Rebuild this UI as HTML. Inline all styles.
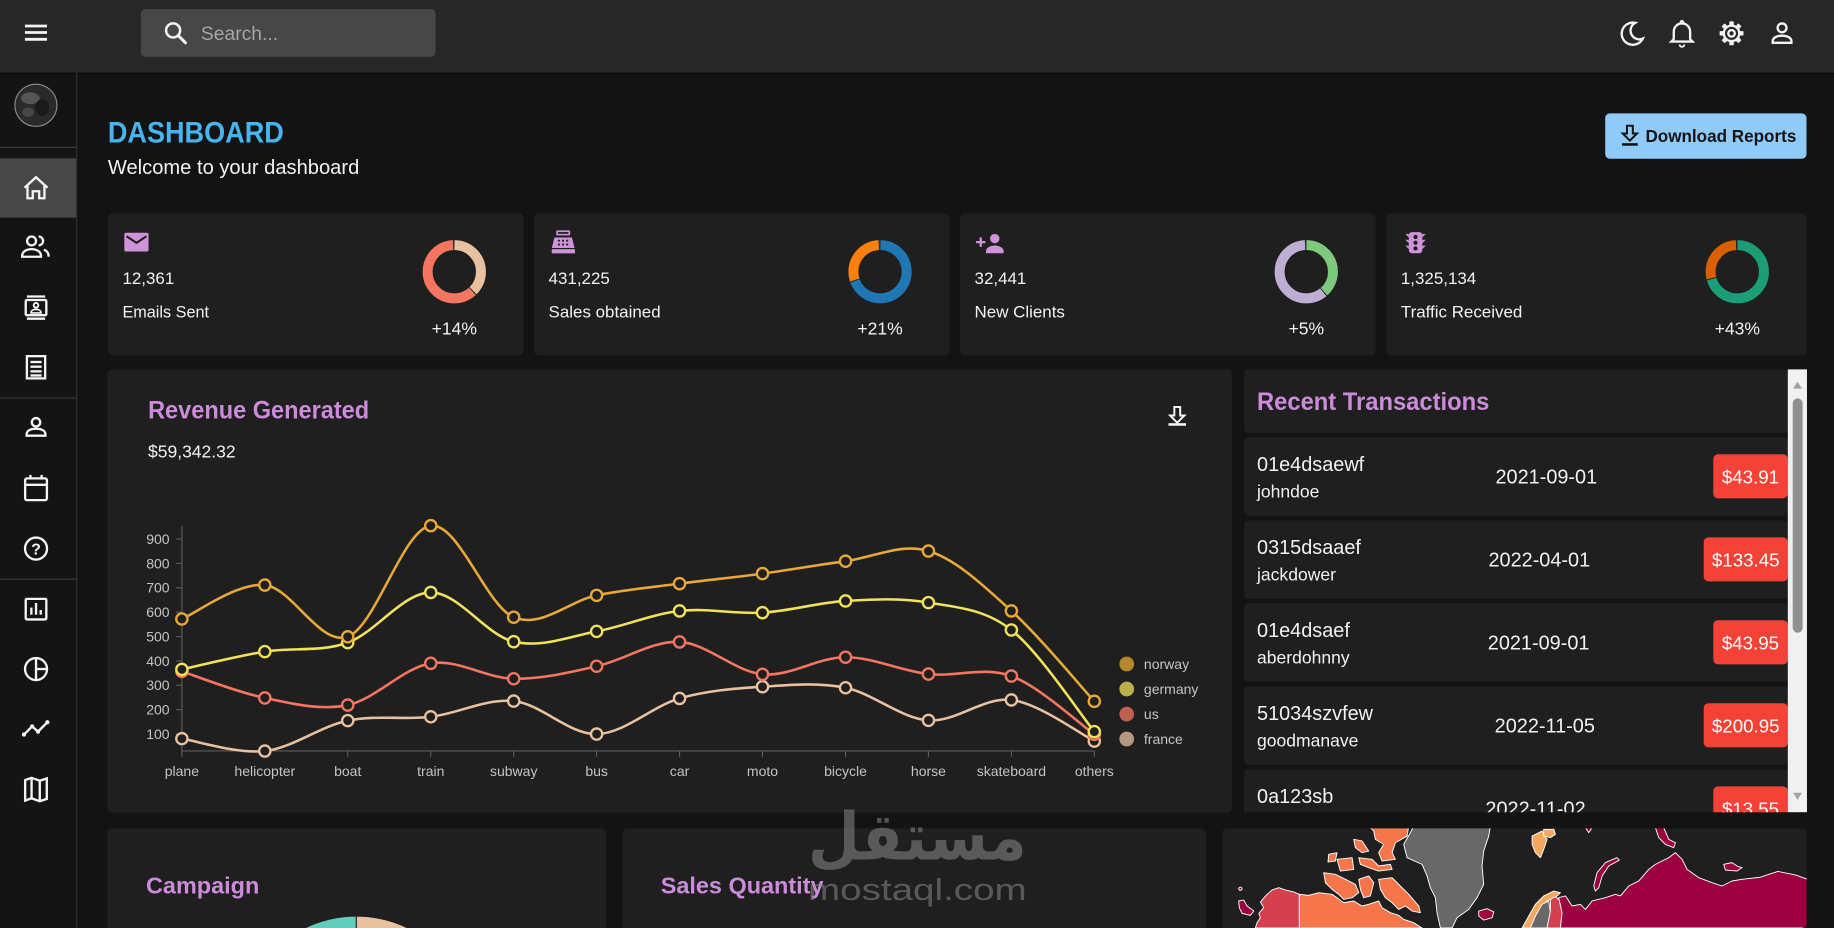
<!DOCTYPE html>
<html><head><meta charset="utf-8"><style>
html,body{margin:0;padding:0;background:#131313;overflow:hidden;width:1834px;height:928px}
svg{display:block;overflow:hidden}
</style></head><body>
<svg width="1834" height="928" viewBox="0 0 1568 793.4" preserveAspectRatio="none" font-family="'Liberation Sans', sans-serif" xmlns="http://www.w3.org/2000/svg" style="overflow:hidden">
<defs>
<clipPath id="tx"><rect x="1063" y="315.8" width="482" height="378.6"/></clipPath>
<clipPath id="geo"><rect x="1045" y="708.2" width="499.6" height="85.2" rx="4"/></clipPath>
<clipPath id="camp"><rect x="91.6" y="708.2" width="426.6" height="85.2" rx="4"/></clipPath>
<clipPath id="page"><rect x="0" y="0" width="1568" height="793.4"/></clipPath>
</defs>
<g clip-path="url(#page)">
<rect width="1568" height="794" fill="#131313"/>
<!-- header -->
<rect width="1568" height="62" fill="#272727"/>
<rect y="62" width="1568" height="2" fill="#0a0a0a" opacity=".6"/>
<g stroke="#f2f2f2" stroke-width="2.4"><line x1="21.3" y1="22.2" x2="40.2" y2="22.2"/><line x1="21.3" y1="27.8" x2="40.2" y2="27.8"/><line x1="21.3" y1="33.6" x2="40.2" y2="33.6"/></g>
<rect x="120.4" y="7.7" width="252" height="40.8" rx="4" fill="#474747"/>
<circle cx="148" cy="26" r="6" fill="none" stroke="#f2f2f2" stroke-width="2.2"/>
<line x1="152.4" y1="30.4" x2="158.6" y2="36.6" stroke="#f2f2f2" stroke-width="2.6" stroke-linecap="round"/>
<text x="171.8" y="34.2" font-size="16.5" fill="#a6a6a6">Search...</text>
<g fill="none" stroke="#f4f4f4" stroke-width="2">
<path d="M1398,19.5 A9.5,9.5 0 1,0 1404.5,33 A7.5,7.5 0 0,1 1398,19.5 Z"/>
<path d="M1431,33.5 v-6.5 a7,7 0 0,1 14,0 v6.5 l2,2 h-18 z"/>
<path d="M1436,38 a2,2 0 0,0 4,0" stroke-width="1.6"/>
<circle cx="1438" cy="19" r="1" />
<circle cx="1480.4" cy="28.5" r="6.6"/>
<circle cx="1480.4" cy="28.5" r="2.8"/>
<circle cx="1523.6" cy="23.8" r="3.8"/>
<path d="M1515.6,36.6 v-1.5 c0,-3 4,-4.6 8,-4.6 s8,1.6 8,4.6 v1.5 z"/>
</g>
<g transform="translate(1480.4,28.5)" fill="#f4f4f4">
<rect x="-1.9" y="-10.2" width="3.8" height="4" rx=".5"/>
<rect x="-1.9" y="-10.2" width="3.8" height="4" rx=".5" transform="rotate(45)"/>
<rect x="-1.9" y="-10.2" width="3.8" height="4" rx=".5" transform="rotate(90)"/>
<rect x="-1.9" y="-10.2" width="3.8" height="4" rx=".5" transform="rotate(135)"/>
<rect x="-1.9" y="-10.2" width="3.8" height="4" rx=".5" transform="rotate(180)"/>
<rect x="-1.9" y="-10.2" width="3.8" height="4" rx=".5" transform="rotate(225)"/>
<rect x="-1.9" y="-10.2" width="3.8" height="4" rx=".5" transform="rotate(270)"/>
<rect x="-1.9" y="-10.2" width="3.8" height="4" rx=".5" transform="rotate(315)"/>
</g>
<!-- sidebar -->
<rect x="0" y="64" width="65.4" height="730" fill="#141414"/>
<line x1="65.6" y1="62" x2="65.6" y2="794" stroke="#2f2f2f" stroke-width="1"/>
<circle cx="30.7" cy="90" r="18" fill="#2a2a2a" stroke="#8c8c8c" stroke-width="1"/>
<ellipse cx="26" cy="84" rx="8" ry="5" fill="#555"/>
<ellipse cx="36" cy="92" rx="6" ry="7" fill="#1a1a1a"/>
<ellipse cx="24" cy="96" rx="5" ry="4" fill="#474747"/>
<line x1="0" y1="126" x2="65" y2="126" stroke="#383838"/>
<rect x="0" y="135.4" width="65" height="50.7" fill="#474747"/>
<line x1="0" y1="340.3" x2="65" y2="340.3" stroke="#383838"/>
<line x1="0" y1="495.2" x2="65" y2="495.2" stroke="#383838"/>
<g fill="none" stroke="#f4f4f4" stroke-width="2">
<path d="M21,160.5 L30.8,151.5 L40.6,160.5 M23.5,158.5 V169.5 H28 V163.5 H33.5 V169.5 H38 V158.5"/>
<circle cx="27" cy="206" r="3.8"/>
<path d="M19,219.5 v-1 c0,-3.5 4,-5.5 8,-5.5 s8,2 8,5.5 v1 z"/>
<path d="M33,202.2 a3.8,3.8 0 0,1 0,7.6"/>
<path d="M37.5,213.5 c2.5,1 4,2.5 4,5 v1"/>
<line x1="23" y1="253.5" x2="38.6" y2="253.5"/>
<line x1="23" y1="272.5" x2="38.6" y2="272.5"/>
<rect x="22" y="256.5" width="17.6" height="13" rx="1"/>
<circle cx="30.8" cy="261" r="2" stroke-width="1.6"/>
<path d="M26.5,267.5 c0,-2 2,-3 4.3,-3 s4.3,1 4.3,3 z" stroke-width="1.4"/>
<rect x="23" y="304.5" width="15.6" height="19"/>
<line x1="26" y1="309.5" x2="35.6" y2="309.5"/>
<line x1="26" y1="313.5" x2="35.6" y2="313.5"/>
<line x1="26" y1="317.5" x2="35.6" y2="317.5"/>
<line x1="26" y1="321" x2="35.6" y2="321"/>
<circle cx="30.8" cy="361" r="3.6"/>
<path d="M22.8,372.5 v-1.5 c0,-3 4,-4.5 8,-4.5 s8,1.5 8,4.5 v1.5 z"/>
<rect x="21.5" y="409" width="18.6" height="18.6" rx="1.5"/>
<line x1="21.5" y1="414.5" x2="40.1" y2="414.5"/>
<line x1="26" y1="406" x2="26" y2="410"/>
<line x1="35.6" y1="406" x2="35.6" y2="410"/>
<circle cx="30.8" cy="469" r="9.4"/>
<rect x="22" y="512" width="17.6" height="17.6" rx="1"/>
<line x1="26.8" y1="519.5" x2="26.8" y2="525.5"/>
<line x1="30.8" y1="515.5" x2="30.8" y2="525.5"/>
<line x1="34.8" y1="521.5" x2="34.8" y2="525.5"/>
<circle cx="30.8" cy="572" r="9.4"/>
<line x1="30.8" y1="562.6" x2="30.8" y2="581.4"/>
<line x1="30.8" y1="572" x2="40.2" y2="572"/>
<polyline points="20.5,628 27.5,621 32.5,625.5 40.5,617.5"/>
<path d="M21.5,667 L27,665 L34,667.5 L40,665.5 V683 L34,685 L27,682.5 L21.5,684.5 Z M27,665 V682.5 M34,667.5 V685"/>
</g>
<text x="30.8" y="474" font-size="13.5" font-weight="bold" fill="#f4f4f4" text-anchor="middle">?</text>
<g fill="#f4f4f4"><circle cx="20.5" cy="628" r="1.8"/><circle cx="27.5" cy="621" r="1.8"/><circle cx="32.5" cy="625.5" r="1.8"/><circle cx="40.5" cy="617.5" r="1.8"/></g>
<!-- title -->
<text x="92.2" y="122" font-size="25" font-weight="bold" fill="#46b5ef" textLength="150.5" lengthAdjust="spacingAndGlyphs">DASHBOARD</text>
<text x="92.2" y="148.8" font-size="17" fill="#f2f2f2" textLength="215" lengthAdjust="spacingAndGlyphs">Welcome to your dashboard</text>
<rect x="1372.4" y="96.9" width="172.1" height="38.8" rx="4" fill="#90caf9"/>
<path d="M1391,107.5 h5 v6.6 h3.6 l-6.1,6.1 l-6.1,-6.1 h3.6 z" fill="none" stroke="#151515" stroke-width="1.7"/>
<rect x="1386.8" y="122.4" width="13.4" height="2.2" fill="#151515"/>
<text x="1406.8" y="121.6" font-size="15" font-weight="bold" fill="#151515" textLength="129" lengthAdjust="spacingAndGlyphs">Download Reports</text>
<!-- stat cards -->
<g fill="#1f1f1f">
<rect x="92.3" y="182.4" width="355.3" height="121.4" rx="4"/>
<rect x="456.6" y="182.4" width="355.1" height="121.4" rx="4"/>
<rect x="820.8" y="182.4" width="355.3" height="121.4" rx="4"/>
<rect x="1185.3" y="182.4" width="359.3" height="121.4" rx="4"/>
</g>
<!-- stat icons -->
<g fill="#ce93d8">
<rect x="106.3" y="199" width="20.7" height="16" rx="1.5"/>
<rect x="475.5" y="197" width="12" height="4.2" rx="1"/>
<path d="M474,203 h15 l2.2,9 h-19.4 z"/>
<rect x="471.7" y="213" width="19.9" height="3.6" rx=".5"/>
<rect x="834.5" y="206" width="8" height="2"/>
<rect x="837.5" y="203" width="2" height="8"/>
<circle cx="850.5" cy="204" r="4"/>
<path d="M843,216.5 v-2 c0,-3 4.5,-4.6 7.5,-4.6 s7.5,1.6 7.5,4.6 v2 z"/>
<rect x="1204.5" y="198.5" width="11.5" height="18" rx="2.5"/>
<path d="M1204.5,200 h-3 l3,3 z M1204.5,205 h-3 l3,3 z M1204.5,210 h-3 l3,3 z M1216,200 h3 l-3,3 z M1216,205 h3 l-3,3 z M1216,210 h3 l-3,3 z"/>
</g>
<path d="M108.2,202 L116.7,207.6 L125.2,202" fill="none" stroke="#1f1f1f" stroke-width="1.8"/>
<rect x="477" y="198.4" width="9" height="1.5" fill="#1f1f1f"/>
<g fill="#1f1f1f"><rect x="477" y="205" width="1.8" height="1.5"/><rect x="480.5" y="205" width="1.8" height="1.5"/><rect x="484" y="205" width="1.8" height="1.5"/><rect x="477" y="208.3" width="1.8" height="1.5"/><rect x="480.5" y="208.3" width="1.8" height="1.5"/><rect x="484" y="208.3" width="1.8" height="1.5"/>
<circle cx="1210.2" cy="202.6" r="1.8"/><circle cx="1210.2" cy="207.5" r="1.8"/><circle cx="1210.2" cy="212.4" r="1.8"/></g>
<g font-size="14.5" fill="#f2f2f2">
<text x="104.7" y="242.8">12,361</text>
<text x="104.7" y="271.3" textLength="74" lengthAdjust="spacingAndGlyphs">Emails Sent</text>
<text x="469" y="242.8">431,225</text>
<text x="469" y="271.3">Sales obtained</text>
<text x="833.2" y="242.8">32,441</text>
<text x="833.2" y="271.3">New Clients</text>
<text x="1197.7" y="242.8">1,325,134</text>
<text x="1197.7" y="271.3">Traffic Received</text>
</g>
<g font-size="15" fill="#f2f2f2" text-anchor="middle">
<text x="388.4" y="285.9">+14%</text>
<text x="752.4" y="285.9">+21%</text>
<text x="1116.8" y="285.9">+5%</text>
<text x="1485.3" y="285.9">+43%</text>
</g>
<!-- donuts -->
<g fill="none" stroke-width="8.5">
<circle cx="388.4" cy="232.3" r="22.8" pathLength="360" transform="rotate(-90 388.4 232.3)" stroke="#e8c1a0" stroke-dasharray="135 225" stroke-dashoffset="-1"/>
<circle cx="388.4" cy="232.3" r="22.8" pathLength="360" transform="rotate(-90 388.4 232.3)" stroke="#f47560" stroke-dasharray="221 139" stroke-dashoffset="-138"/>
<circle cx="752.4" cy="232.3" r="22.8" pathLength="360" transform="rotate(-90 752.4 232.3)" stroke="#1f77b4" stroke-dasharray="250 110" stroke-dashoffset="-1"/>
<circle cx="752.4" cy="232.3" r="22.8" pathLength="360" transform="rotate(-90 752.4 232.3)" stroke="#ff7f0e" stroke-dasharray="106 254" stroke-dashoffset="-253"/>
<circle cx="1116.8" cy="232.3" r="22.8" pathLength="360" transform="rotate(-90 1116.8 232.3)" stroke="#7fc97f" stroke-dasharray="138 222" stroke-dashoffset="-1"/>
<circle cx="1116.8" cy="232.3" r="22.8" pathLength="360" transform="rotate(-90 1116.8 232.3)" stroke="#beaed4" stroke-dasharray="218 142" stroke-dashoffset="-141"/>
<circle cx="1485.3" cy="232.3" r="22.8" pathLength="360" transform="rotate(-90 1485.3 232.3)" stroke="#1b9e77" stroke-dasharray="254 106" stroke-dashoffset="-1"/>
<circle cx="1485.3" cy="232.3" r="22.8" pathLength="360" transform="rotate(-90 1485.3 232.3)" stroke="#d95f02" stroke-dasharray="102 258" stroke-dashoffset="-257"/>
</g>
<!-- revenue card -->
<rect x="91.8" y="315.8" width="961.5" height="379" rx="4" fill="#1f1f1f"/>
<text x="126.6" y="357.7" font-size="21" font-weight="bold" fill="#cc8cdb" textLength="189" lengthAdjust="spacingAndGlyphs">Revenue Generated</text>
<text x="126.5" y="391" font-size="15" fill="#f2f2f2" textLength="75" lengthAdjust="spacingAndGlyphs">$59,342.32</text>
<path d="M1004,348 h5 v7.2 h3.6 l-6.1,6.2 l-6.1,-6.2 h3.6 z" fill="none" stroke="#f4f4f4" stroke-width="1.7"/>
<rect x="999" y="361.8" width="15" height="2.2" fill="#f4f4f4"/>
<!-- chart axes -->
<g stroke="#5c5c5c" stroke-width="1">
<line x1="155.5" y1="449.7" x2="155.5" y2="642"/>
<line x1="155.5" y1="642" x2="935.6" y2="642"/>
<line x1="155.5" y1="642" x2="155.5" y2="647"/><line x1="226.4" y1="642" x2="226.4" y2="647"/><line x1="297.3" y1="642" x2="297.3" y2="647"/><line x1="368.3" y1="642" x2="368.3" y2="647"/><line x1="439.2" y1="642" x2="439.2" y2="647"/><line x1="510.1" y1="642" x2="510.1" y2="647"/><line x1="581" y1="642" x2="581" y2="647"/><line x1="651.9" y1="642" x2="651.9" y2="647"/><line x1="722.9" y1="642" x2="722.9" y2="647"/><line x1="793.8" y1="642" x2="793.8" y2="647"/><line x1="864.7" y1="642" x2="864.7" y2="647"/><line x1="935.6" y1="642" x2="935.6" y2="647"/>
<line x1="150.5" y1="627.6" x2="155.5" y2="627.6"/><line x1="150.5" y1="606.7" x2="155.5" y2="606.7"/><line x1="150.5" y1="585.9" x2="155.5" y2="585.9"/><line x1="150.5" y1="565" x2="155.5" y2="565"/><line x1="150.5" y1="544.2" x2="155.5" y2="544.2"/><line x1="150.5" y1="523.4" x2="155.5" y2="523.4"/><line x1="150.5" y1="502.5" x2="155.5" y2="502.5"/><line x1="150.5" y1="481.7" x2="155.5" y2="481.7"/><line x1="150.5" y1="460.8" x2="155.5" y2="460.8"/>
</g>
<g font-size="12" fill="#c4c4c8" text-anchor="end">
<text x="145" y="631.8">100</text><text x="145" y="610.9">200</text><text x="145" y="590.1">300</text><text x="145" y="569.2">400</text><text x="145" y="548.4">500</text><text x="145" y="527.6">600</text><text x="145" y="506.7">700</text><text x="145" y="485.9">800</text><text x="145" y="465">900</text>
</g>
<g font-size="12" fill="#c4c4c8" text-anchor="middle">
<text x="155.5" y="663.5">plane</text><text x="226.4" y="663.5">helicopter</text><text x="297.3" y="663.5">boat</text><text x="368.3" y="663.5">train</text><text x="439.2" y="663.5">subway</text><text x="510.1" y="663.5">bus</text><text x="581" y="663.5">car</text><text x="651.9" y="663.5">moto</text><text x="722.9" y="663.5">bicycle</text><text x="793.8" y="663.5">horse</text><text x="864.7" y="663.5">skateboard</text><text x="935.6" y="663.5">others</text>
</g>
<!-- series -->
<g fill="none" stroke-width="2.2">
<path stroke="#e8c1a0" d="M155.5,631.5 C167.3,633.3 202.8,644.7 226.4,642.1 C250.0,639.5 273.7,621.0 297.3,616.1 C320.9,611.2 344.7,615.6 368.3,612.8 C391.9,610.0 415.6,596.9 439.2,599.4 C462.8,601.9 486.5,628.0 510.1,627.6 C533.7,627.2 557.4,603.9 581.0,597.1 C604.6,590.4 628.3,588.6 651.9,587.1 C675.5,585.6 699.3,583.2 722.9,588.0 C746.5,592.8 770.2,614.2 793.8,615.9 C817.4,617.6 841.1,595.5 864.7,598.4 C888.3,601.4 923.8,627.7 935.6,633.6"/>
<path stroke="#f47560" d="M155.5,574.0 C167.3,577.8 202.8,591.9 226.4,596.7 C250.0,601.5 273.7,607.7 297.3,602.8 C320.9,597.9 344.7,570.9 368.3,567.1 C391.9,563.4 415.6,579.9 439.2,580.3 C462.8,580.7 486.5,574.9 510.1,569.6 C533.7,564.4 557.4,547.7 581.0,548.8 C604.6,550.0 628.3,574.3 651.9,576.5 C675.5,578.7 699.3,561.9 722.9,561.9 C746.5,561.9 770.2,573.6 793.8,576.3 C817.4,579.0 841.1,569.4 864.7,578.0 C888.3,586.6 923.8,619.5 935.6,627.8"/>
<path stroke="#f1e15b" d="M155.5,572.3 C167.3,569.8 202.8,560.9 226.4,557.1 C250.0,553.3 273.7,557.8 297.3,549.4 C320.9,541.0 344.7,506.6 368.3,506.5 C391.9,506.4 415.6,543.1 439.2,548.6 C462.8,554.2 486.5,544.2 510.1,539.8 C533.7,535.4 557.4,525.0 581.0,522.3 C604.6,519.6 628.3,525.2 651.9,523.8 C675.5,522.4 699.3,515.2 722.9,513.8 C746.5,512.4 770.2,511.1 793.8,515.2 C817.4,519.3 841.1,520.2 864.7,538.6 C888.3,557.0 923.8,611.0 935.6,625.5"/>
<path stroke="#e8a838" d="M155.5,529.2 C167.3,524.4 202.8,497.7 226.4,500.2 C250.0,502.7 273.7,552.9 297.3,544.4 C320.9,535.9 344.7,452.2 368.3,449.4 C391.9,446.6 415.6,517.8 439.2,527.7 C462.8,537.6 486.5,513.8 510.1,509.0 C533.7,504.2 557.4,502.1 581.0,499.0 C604.6,495.9 628.3,493.6 651.9,490.4 C675.5,487.2 699.3,483.0 722.9,479.8 C746.5,476.6 770.2,464.0 793.8,471.1 C817.4,478.2 841.1,500.9 864.7,522.3 C888.3,543.7 923.8,586.7 935.6,599.6"/>
</g>
<g fill="#1f1f1f" stroke-width="2">
<g stroke="#e8c1a0"><circle cx="155.5" cy="631.5" r="4.8"/><circle cx="226.4" cy="642.1" r="4.8"/><circle cx="297.3" cy="616.1" r="4.8"/><circle cx="368.3" cy="612.8" r="4.8"/><circle cx="439.2" cy="599.4" r="4.8"/><circle cx="510.1" cy="627.6" r="4.8"/><circle cx="581" cy="597.1" r="4.8"/><circle cx="651.9" cy="587.1" r="4.8"/><circle cx="722.9" cy="588" r="4.8"/><circle cx="793.8" cy="615.9" r="4.8"/><circle cx="864.7" cy="598.4" r="4.8"/><circle cx="935.6" cy="633.6" r="4.8"/></g>
<g stroke="#f47560"><circle cx="155.5" cy="574" r="4.8"/><circle cx="226.4" cy="596.7" r="4.8"/><circle cx="297.3" cy="602.8" r="4.8"/><circle cx="368.3" cy="567.1" r="4.8"/><circle cx="439.2" cy="580.3" r="4.8"/><circle cx="510.1" cy="569.6" r="4.8"/><circle cx="581" cy="548.8" r="4.8"/><circle cx="651.9" cy="576.5" r="4.8"/><circle cx="722.9" cy="561.9" r="4.8"/><circle cx="793.8" cy="576.3" r="4.8"/><circle cx="864.7" cy="578" r="4.8"/><circle cx="935.6" cy="627.8" r="4.8"/></g>
<g stroke="#f1e15b"><circle cx="155.5" cy="572.3" r="4.8"/><circle cx="226.4" cy="557.1" r="4.8"/><circle cx="297.3" cy="549.4" r="4.8"/><circle cx="368.3" cy="506.5" r="4.8"/><circle cx="439.2" cy="548.6" r="4.8"/><circle cx="510.1" cy="539.8" r="4.8"/><circle cx="581" cy="522.3" r="4.8"/><circle cx="651.9" cy="523.8" r="4.8"/><circle cx="722.9" cy="513.8" r="4.8"/><circle cx="793.8" cy="515.2" r="4.8"/><circle cx="864.7" cy="538.6" r="4.8"/><circle cx="935.6" cy="625.5" r="4.8"/></g>
<g stroke="#e8a838"><circle cx="155.5" cy="529.2" r="4.8"/><circle cx="226.4" cy="500.2" r="4.8"/><circle cx="297.3" cy="544.4" r="4.8"/><circle cx="368.3" cy="449.4" r="4.8"/><circle cx="439.2" cy="527.7" r="4.8"/><circle cx="510.1" cy="509" r="4.8"/><circle cx="581" cy="499" r="4.8"/><circle cx="651.9" cy="490.4" r="4.8"/><circle cx="722.9" cy="479.8" r="4.8"/><circle cx="793.8" cy="471.1" r="4.8"/><circle cx="864.7" cy="522.3" r="4.8"/><circle cx="935.6" cy="599.6" r="4.8"/></g>
</g>
<!-- legend -->
<circle cx="963.3" cy="567.7" r="6.3" fill="#b6862f"/>
<circle cx="963.3" cy="589.1" r="6.3" fill="#bcb04c"/>
<circle cx="963.3" cy="610.5" r="6.3" fill="#bf5f50"/>
<circle cx="963.3" cy="631.8" r="6.3" fill="#b69880"/>
<g font-size="12" fill="#c4c4c8">
<text x="978" y="571.9">norway</text><text x="978" y="593.3">germany</text><text x="978" y="614.7">us</text><text x="978" y="636">france</text>
</g>
<!-- transactions -->
<g clip-path="url(#tx)">
<rect x="1063.6" y="315.8" width="464.9" height="54.2" rx="4" fill="#1f1f1f"/>
<g fill="#1f1f1f">
<rect x="1063.6" y="373.9" width="464.9" height="67" rx="4"/>
<rect x="1063.6" y="444.9" width="464.9" height="67" rx="4"/>
<rect x="1063.6" y="515.8" width="464.9" height="67" rx="4"/>
<rect x="1063.6" y="586.8" width="464.9" height="67" rx="4"/>
<rect x="1063.6" y="657.8" width="464.9" height="67" rx="4"/>
</g>
<text x="1074.7" y="350.5" font-size="21" font-weight="bold" fill="#cc8cdb" textLength="198.6" lengthAdjust="spacingAndGlyphs">Recent Transactions</text>
<g fill="#f44336">
<rect x="1464.8" y="388.4" width="63.7" height="37.7" rx="4"/>
<rect x="1456.6" y="459.4" width="71.9" height="37.7" rx="4"/>
<rect x="1464.8" y="530.3" width="63.7" height="37.7" rx="4"/>
<rect x="1456.6" y="601.3" width="71.9" height="37.7" rx="4"/>
<rect x="1464.8" y="672.3" width="63.7" height="37.7" rx="4"/>
</g>
<g fill="#f2f2f2">
<g font-size="17">
<text x="1074.7" y="402.7">01e4dsaewf</text>
<text x="1074.7" y="473.7">0315dsaaef</text>
<text x="1074.7" y="544.6">01e4dsaef</text>
<text x="1074.7" y="615.6">51034szvfew</text>
<text x="1074.7" y="686.6">0a123sb</text>
<text x="1278.6" y="413.3">2021-09-01</text>
<text x="1272.6" y="484.3">2022-04-01</text>
<text x="1272" y="555.2">2021-09-01</text>
<text x="1277.9" y="626.2">2022-11-05</text>
<text x="1270" y="697.2">2022-11-02</text>
</g>
<g font-size="15">
<text x="1074.7" y="425.5">johndoe</text>
<text x="1074.7" y="496.5">jackdower</text>
<text x="1074.7" y="567.4">aberdohnny</text>
<text x="1074.7" y="638.4">goodmanave</text>
</g>
<g font-size="16" text-anchor="middle" fill="#ffffff">
<text x="1496.6" y="413.3">$43.91</text>
<text x="1492.5" y="484.3">$133.45</text>
<text x="1496.6" y="555.2">$43.95</text>
<text x="1492.5" y="626.2">$200.95</text>
<text x="1496.6" y="697.2">$13.55</text>
</g>
</g>
</g>
<rect x="1528.5" y="315.8" width="16.4" height="378.6" fill="#f1f1f1"/>
<rect x="1532.7" y="340.6" width="8.5" height="200.3" rx="4.2" fill="#909090"/>
<polygon points="1533,332.3 1540.6,332.3 1536.8,326.3" fill="#a3a3a3"/>
<polygon points="1533,677.8 1540.6,677.8 1536.8,683.8" fill="#a3a3a3"/>
<!-- bottom cards -->
<rect x="91.6" y="708.2" width="426.6" height="90" rx="4" fill="#1f1f1f"/>
<rect x="532.2" y="708.2" width="498.8" height="90" rx="4" fill="#1f1f1f"/>
<rect x="1045" y="708.2" width="499.6" height="90" rx="4" fill="#1f1f1f"/>
<text x="124.8" y="763.8" font-size="20" font-weight="bold" fill="#cc8cdb" textLength="96.9" lengthAdjust="spacingAndGlyphs">Campaign</text>
<text x="564.9" y="763.8" font-size="20" font-weight="bold" fill="#cc8cdb" textLength="139.2" lengthAdjust="spacingAndGlyphs">Sales Quantity</text>
<g clip-path="url(#camp)">
<path d="M304.6,783.7 A100,100 0 0,0 204.6,883.7 L304.6,883.7 Z" fill="#61cdbb"/>
<path d="M304.6,783.7 A100,100 0 0,1 404.6,883.7 L304.6,883.7 Z" fill="#e8c1a0"/>
<line x1="304.6" y1="783" x2="304.6" y2="795" stroke="#1f1f1f" stroke-width="1"/>
</g>
<!-- map -->
<g clip-path="url(#geo)" stroke="#ffffff" stroke-width="0.8" stroke-linejoin="round">
<polygon fill="#d5404f" points="1073.3,793.4 1074.7,788.9 1077.6,784.6 1076.2,780.9 1080.4,776 1077.6,771.2 1083.3,764.6 1087.6,760.9 1093.3,758.9 1098.9,760.9 1106.1,762.6 1110.9,764.6 1110.9,793.4"/>
<polygon fill="#9d0040" points="1059,770.3 1063.3,769.5 1066.2,774.6 1071.9,778.9 1069,782.6 1061.9,780.9 1059.6,776"/>
<circle cx="1060.5" cy="759.8" r="1.4" fill="#9d0040"/>
<polygon fill="#f4764a" points="1110.9,764.6 1118.9,765.5 1127.5,763.2 1138.9,764.6 1143.1,767.5 1148.8,771.8 1157.4,770.3 1164.5,774.6 1170.2,773.2 1178.7,770.3 1181.6,776 1188.7,780.3 1195.8,782.6 1200.1,786 1208.7,788.9 1215.8,793.4 1110.9,793.4"/>
<polygon fill="#f4764a" points="1170.2,706.2 1204.4,706.2 1203,714.8 1193,720.5 1190.2,729 1193,734.7 1181.6,736.1 1178.7,729 1183,721.9 1175.9,717.6 1174.5,710.5"/>
<polygon fill="#f4764a" points="1178.7,751.8 1190.2,750.4 1195.8,756.1 1204.4,764.6 1213,774.6 1214.4,780.3 1207.3,778.9 1201.6,774.6 1195.8,777.5 1190.2,771.8 1184.5,767.5 1180.2,760.4"/>
<polygon fill="#f4764a" points="1131.7,746.1 1141.7,747.5 1150.3,751.8 1158.8,756.1 1161.7,763.2 1156,767.5 1148.8,768.9 1144.6,764.6 1138.9,760.4 1133.2,754.7"/>
<polygon fill="#f4764a" points="1161.7,733.3 1173.1,734.7 1178.7,740.4 1188.7,739 1190.2,743.3 1178.7,744.7 1170.2,741.8 1163.1,739"/>
<polygon fill="#f4764a" points="1136,730.4 1143.1,729 1141.7,736.1 1135.4,737"/>
<polygon fill="#f4764a" points="1143.1,734.7 1156,733.3 1157.4,743.3 1146,744.7"/>
<polygon fill="#f4764a" points="1157.4,717.6 1164.5,719 1170.2,727.6 1164.5,729 1158.8,724.7"/>
<polygon fill="#f4764a" points="1161.7,751.8 1170.2,748.9 1174.5,754.7 1171.6,766 1165.9,767.5 1163.1,760.4"/>
<polygon fill="#686868" points="1208.7,706.2 1205.8,711.9 1200.1,721.9 1203,733.3 1215.8,739 1220.1,749 1222.9,758.9 1227.2,767.5 1228.6,780.3 1231.5,793.4 1241.5,793.4 1245.7,784.6 1255.7,777.5 1262.8,767.5 1268.5,756.1 1267.1,740.4 1268.5,727.6 1272.8,714.8 1274.2,706.2"/>
<polygon fill="#a3003f" points="1264.3,778.9 1271.4,776.9 1277.1,779.7 1275.7,784.6 1268.5,786.6 1264.3,783.2"/>
<polygon fill="#f5a75f" points="1309.9,714.8 1318.4,710.5 1322.7,717.6 1319.8,726.2 1317,733.3 1312.7,729 1309.9,721.9"/>
<polygon fill="#f5a75f" points="1319.8,709 1328.4,709 1329.8,713.3 1325.5,716.2 1319.8,714.8"/>
<polygon fill="#f5a75f" points="1301.3,793.4 1307,783.2 1312.7,773.2 1319.8,766 1328.4,761.8 1334.1,763.2 1329.8,767.5 1322.7,770.3 1317,777.5 1311.3,787.4 1308.4,793.4"/>
<polygon fill="#686868" points="1308.4,793.4 1312.7,783.2 1318.4,773.2 1324.1,770.3 1325.5,780.3 1322.7,793.4"/>
<polygon fill="#d5404f" points="1322.7,793.4 1325.5,779 1325.5,769 1329.8,766.6 1334.1,770.3 1335.5,780.3 1334.1,793.4"/>
<polygon fill="#9d0040" points="1334.1,793.4 1335.5,780.3 1332.6,767.5 1338.4,766 1344.1,774.6 1351.2,773.2 1355.5,777.5 1361.2,770.3 1372.6,767.5 1381.1,764.6 1385.4,766 1392.5,757.5 1401.1,753.2 1409.6,743.3 1415.3,739 1426.7,733.3 1432.4,729 1438.1,734.7 1442.4,743.3 1452.4,750.4 1463.8,754.7 1472.3,757.5 1480.8,753.2 1489.4,751.8 1505,750 1520,745 1535,748 1546,752 1546,793.4"/>
<polygon fill="#9d0040" points="1382.5,733.3 1384.5,735.3 1375.4,740.4 1369.7,749 1366.9,758.9 1364,761.8 1362.6,757.5 1365.4,746.1 1372.6,737.5"/>
<polygon fill="#9d0040" points="1415.3,707.6 1422.4,707.6 1426.7,717.6 1432.4,720.5 1431,724.7 1423.9,721.9 1418.2,716.2"/>
<polygon fill="#9d0040" points="1355.5,707.6 1361.2,707.6 1358.3,711.9"/>
<polygon fill="#9d0040" points="1473.7,739 1480.8,737.5 1485.1,740.4 1489.4,741.8 1485.1,744.7 1475.2,743.8"/>
</g>
<!-- watermark -->
<g fill="#8a8a8a" opacity=".55">
<text x="690.8" y="735" font-family="'DejaVu Sans', sans-serif" font-weight="bold" font-size="56" textLength="187" lengthAdjust="spacingAndGlyphs">مستقل</text>
<text x="690.8" y="769.6" font-size="26.3" textLength="187" lengthAdjust="spacingAndGlyphs">mostaql.com</text>
</g>
</g>
</svg>
</body></html>
